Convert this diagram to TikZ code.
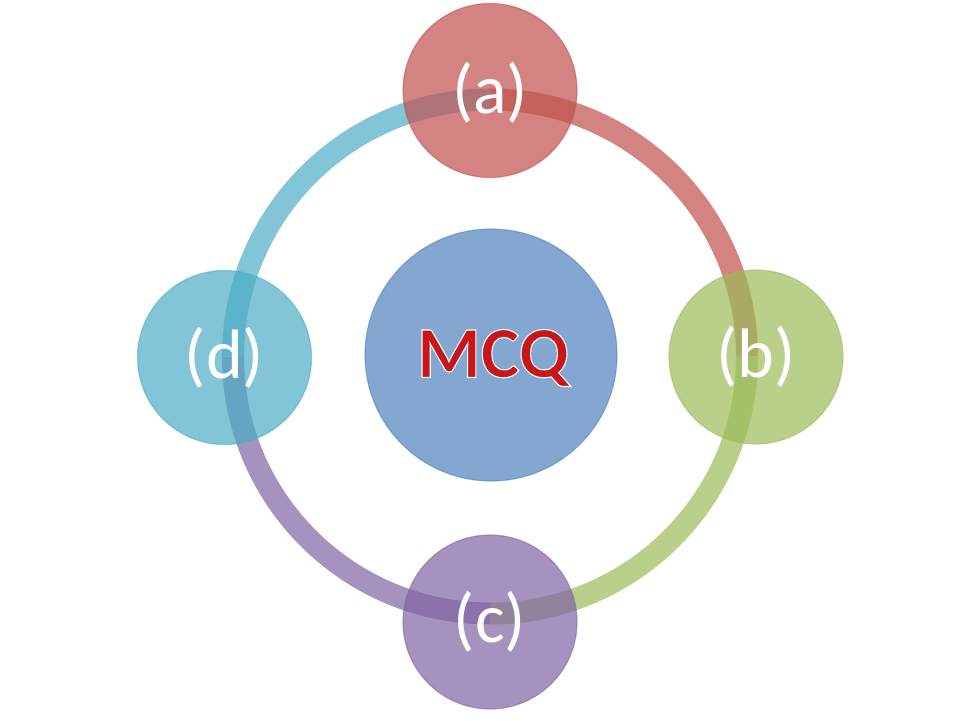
\documentclass[tikz,border=0pt]{standalone}
\usepackage{fontspec}
\setmainfont{Carlito}
\definecolor{offred}{HTML}{C0504D}
\definecolor{offgreen}{HTML}{9BBB59}
\definecolor{offpurple}{HTML}{8064A2}
\definecolor{offaqua}{HTML}{4BACC6}
\definecolor{offblue}{HTML}{4F81BD}
\definecolor{mcqred}{HTML}{C8171B}
\newcommand{\outlinedtext}[1]{{\color{mcqred}\special{pdf:literal direct 2 Tr 1.1 w 1 1 1 RG}#1\special{pdf:literal direct 0 Tr}}}
\begin{document}
\begin{tikzpicture}[x=1pt,y=1pt,
  ringseg/.style={line width=22pt, draw opacity=0.7},
  bubble/.style={circle, minimum size=174pt, inner sep=0pt, fill opacity=0.7, draw opacity=0.55, line width=1.2pt},
  lbl/.style={font=\fontsize{70}{74}\selectfont, text=white, inner sep=0pt},
  mcqfont/.style={font=\fontsize{73}{77}\selectfont\bfseries, inner sep=0pt},
]
\useasboundingbox (0,0) rectangle (960,720);
\coordinate (O) at (490,363.5);
% ring segments
\draw[ringseg, draw=offred]    (O) ++(90:257)  arc[start angle=90,  end angle=0,    radius=257];
\draw[ringseg, draw=offgreen]  (O) ++(0:257)   arc[start angle=0,   end angle=-90,  radius=257];
\draw[ringseg, draw=offpurple] (O) ++(-90:257) arc[start angle=-90, end angle=-180, radius=257];
\draw[ringseg, draw=offaqua]   (O) ++(180:257) arc[start angle=180, end angle=90,   radius=257];
% centre
\node[bubble, minimum size=252pt, fill=offblue, draw=offblue] (m) at (491,365) {};
% satellites
\node[bubble, fill=offred,    draw=offred]    (a) at (490,629.5) {};
\node[bubble, fill=offgreen,  draw=offgreen]  (b) at (756,363) {};
\node[bubble, fill=offpurple, draw=offpurple] (c) at (490,98) {};
\node[bubble, fill=offaqua,   draw=offaqua]   (d) at (224.5,362.5) {};
% labels
\node[lbl] (al) at ([yshift=-2]a.center) {(a)};
\node[lbl] (bl) at (b.center) {(b)};
\node[lbl] (cl) at (c.center) {(c)};
\node[lbl] (dl) at (d.center) {(d)};
% MCQ
\node[mcqfont] (mt) at ([shift={(2,-3)}]m.center) {\outlinedtext{MCQ}};
\end{tikzpicture}
\end{document}
